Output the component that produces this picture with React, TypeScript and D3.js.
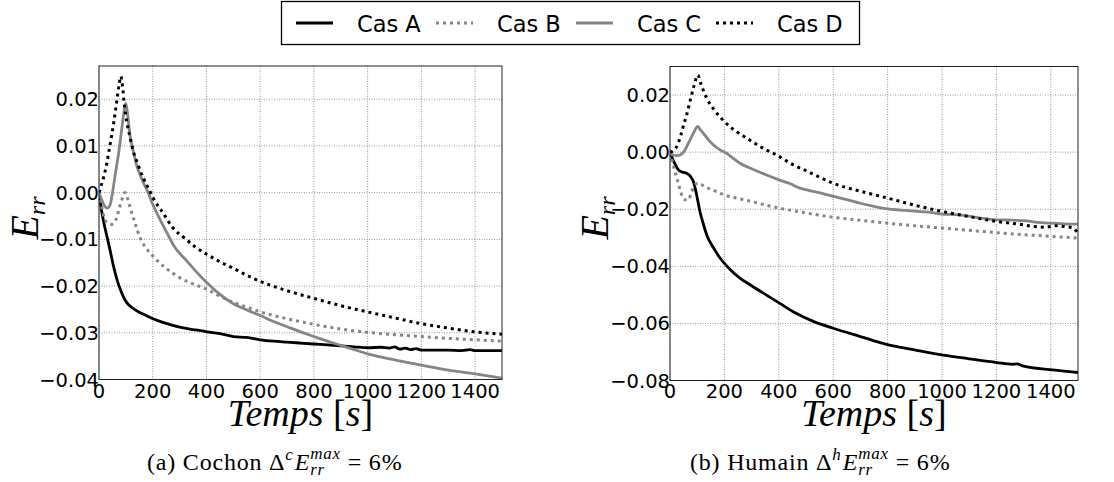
import React from 'react';
import * as d3 from 'd3';

type P = [number, number];

const timeTicks = [0, 200, 400, 600, 800, 1000, 1200, 1400];
const cochonYTicks = [-0.04, -0.03, -0.02, -0.01, 0, 0.01, 0.02];
const humainYTicks = [-0.08, -0.06, -0.04, -0.02, 0, 0.02];
const seriesNames = ['Cas A', 'Cas B', 'Cas C', 'Cas D'];

// (a) Cochon
const cochonA: P[] = [[0,0],[10,-0.004],[20,-0.007],[30,-0.0095],[40,-0.012],[55,-0.016],[70,-0.0192],[80,-0.0208],[90,-0.0222],[104,-0.0236],[125,-0.0247],[150,-0.0256],[175,-0.0263],[201,-0.027],[250,-0.028],[300,-0.0288],[350,-0.0293],[402,-0.0298],[450,-0.0302],[500,-0.0308],[550,-0.031],[600,-0.0315],[650,-0.0318],[700,-0.032],[750,-0.0322],[800,-0.0324],[850,-0.0326],[900,-0.0328],[950,-0.033],[1000,-0.0332],[1050,-0.0331],[1080,-0.0333],[1100,-0.033],[1120,-0.0335],[1140,-0.0333],[1160,-0.0336],[1180,-0.0334],[1200,-0.0337],[1250,-0.0337],[1300,-0.0337],[1350,-0.0338],[1380,-0.0336],[1400,-0.0338],[1450,-0.0338],[1500,-0.0338]];
const cochonB: P[] = [[0,0],[10,-0.003],[20,-0.0055],[30,-0.0064],[45,-0.0068],[55,-0.0066],[65,-0.0055],[75,-0.0035],[85,-0.0015],[97,0.0],[105,-0.001],[115,-0.003],[130,-0.0058],[154,-0.0098],[177,-0.012],[196,-0.0133],[225,-0.015],[250,-0.0162],[276,-0.0173],[300,-0.0182],[340,-0.0193],[376,-0.0201],[402,-0.0207],[450,-0.0222],[500,-0.0235],[550,-0.0245],[600,-0.0255],[700,-0.027],[800,-0.0282],[900,-0.0292],[1000,-0.0299],[1100,-0.0304],[1200,-0.0308],[1300,-0.0312],[1400,-0.0315],[1500,-0.0318]];
const cochonC: P[] = [[0,0],[10,-0.0015],[20,-0.0028],[32,-0.0033],[42,-0.0025],[53,0.001],[62,0.0045],[72,0.008],[80,0.0115],[88,0.0152],[95,0.018],[100,0.0191],[107,0.0165],[115,0.0124],[127,0.009],[140,0.0059],[160,0.0028],[183,0.0],[200,-0.0025],[225,-0.0055],[252,-0.0085],[281,-0.0116],[327,-0.0146],[360,-0.0168],[400,-0.0192],[450,-0.0218],[500,-0.0238],[550,-0.0251],[600,-0.0263],[650,-0.0276],[700,-0.0287],[750,-0.0298],[800,-0.0308],[850,-0.0318],[900,-0.0327],[950,-0.0336],[1000,-0.0345],[1100,-0.0358],[1200,-0.0369],[1300,-0.038],[1400,-0.0388],[1500,-0.0397]];
const cochonD: P[] = [[0,0],[8,0.0015],[16,0.003],[28,0.006],[41,0.0102],[55,0.015],[66,0.0195],[75,0.0232],[81,0.0249],[88,0.0225],[95,0.0185],[103,0.0152],[115,0.012],[128,0.0088],[145,0.006],[165,0.0031],[185,0.0008],[202,-0.0012],[240,-0.0045],[276,-0.0076],[320,-0.0098],[360,-0.0117],[401,-0.0132],[450,-0.0148],[500,-0.0162],[550,-0.0177],[600,-0.019],[700,-0.021],[798,-0.0226],[900,-0.0242],[997,-0.0255],[1100,-0.0268],[1195,-0.028],[1300,-0.029],[1400,-0.0298],[1500,-0.0303]];

// (b) Humain
const humainA: P[] = [[0,0],[15,-0.0035],[31,-0.0062],[45,-0.007],[61,-0.0074],[75,-0.0085],[86,-0.0103],[98,-0.015],[110,-0.0208],[122,-0.025],[135,-0.029],[160,-0.0335],[184,-0.0371],[220,-0.041],[257,-0.0441],[300,-0.0468],[343,-0.0494],[404,-0.053],[460,-0.0563],[527,-0.0593],[600,-0.0617],[700,-0.0646],[803,-0.0675],[895,-0.0692],[1005,-0.0711],[1100,-0.0724],[1201,-0.0737],[1260,-0.0743],[1275,-0.0742],[1300,-0.075],[1397,-0.0762],[1500,-0.0772]];
const humainB: P[] = [[0,0],[12,-0.0045],[25,-0.0091],[35,-0.0125],[43,-0.015],[55,-0.0167],[67,-0.0167],[80,-0.0138],[92,-0.0114],[104,-0.0109],[130,-0.0122],[160,-0.0134],[200,-0.015],[250,-0.0162],[300,-0.0173],[350,-0.0185],[401,-0.0196],[500,-0.0213],[600,-0.0228],[700,-0.0239],[800,-0.0249],[900,-0.0258],[1001,-0.0266],[1100,-0.0274],[1201,-0.0282],[1300,-0.0289],[1400,-0.0295],[1500,-0.0301]];
const humainC: P[] = [[0,0],[10,-0.001],[25,-0.0012],[40,-0.0008],[50,0.0],[62,0.002],[74,0.0043],[88,0.007],[102,0.009],[112,0.0078],[123,0.0066],[140,0.0045],[159,0.0026],[184,0.0008],[208,-0.0004],[230,-0.002],[257,-0.0039],[300,-0.0058],[355,-0.008],[401,-0.0097],[440,-0.011],[478,-0.0126],[540,-0.014],[600,-0.0155],[650,-0.0166],[699,-0.0179],[750,-0.019],[800,-0.0199],[850,-0.0203],[900,-0.0207],[950,-0.021],[1001,-0.0217],[1050,-0.0219],[1103,-0.0225],[1150,-0.0232],[1201,-0.0237],[1250,-0.0238],[1311,-0.0241],[1350,-0.0246],[1401,-0.0249],[1450,-0.0251],[1500,-0.0252]];
const humainD: P[] = [[0,0],[12,0.0005],[25,0.002],[40,0.006],[50,0.0095],[61,0.013],[74,0.018],[86,0.0224],[95,0.0255],[102,0.027],[115,0.0235],[135,0.0189],[165,0.0145],[200,0.0107],[240,0.0075],[282,0.0049],[340,0.0015],[401,-0.0015],[450,-0.0043],[500,-0.0065],[550,-0.0088],[600,-0.0109],[700,-0.0137],[800,-0.0161],[900,-0.0186],[1001,-0.0208],[1100,-0.0226],[1201,-0.0243],[1280,-0.0252],[1336,-0.026],[1380,-0.0263],[1420,-0.0258],[1460,-0.0262],[1480,-0.0265],[1500,-0.0284]];

const GRAY = '#858585';
const lineStyles = [
  { stroke: '#000', dash: undefined as string | undefined, w: 2.8 },
  { stroke: GRAY, dash: '3 4', w: 3 },
  { stroke: GRAY, dash: undefined as string | undefined, w: 2.8 },
  { stroke: '#000', dash: '3 4', w: 3 },
];

const tickFont = 'DejaVu Sans';
const fmt = d3.format('.2f');

function Panel(props: {
  id: string; x0: number; x1: number; y0: number; y1: number;
  yDomain: [number, number]; yTicks: number[]; series: P[][];
  labelX: number; labelY: number;
}) {
  const { id, x0, x1, y0, y1, yDomain, yTicks, series, labelX, labelY } = props;
  const x = d3.scaleLinear().domain([0, 1500]).range([x0, x1]);
  const y = d3.scaleLinear().domain(yDomain).range([y1, y0]);
  const line = d3.line<P>().x(d => x(d[0])).y(d => y(d[1])).curve(d3.curveMonotoneX);
  return (
    <g>
      <defs>
        <clipPath id={id}>
          <rect x={x0} y={y0} width={x1 - x0} height={y1 - y0} />
        </clipPath>
      </defs>
      {timeTicks.map(t => (
        <line key={'gx' + t} x1={x(t)} x2={x(t)} y1={y0} y2={y1} stroke="#8a8a8a" strokeWidth={0.9} strokeDasharray="1 1.5" />
      ))}
      {yTicks.map(v => (
        <line key={'gy' + v} x1={x0} x2={x1} y1={y(v)} y2={y(v)} stroke="#8a8a8a" strokeWidth={0.9} strokeDasharray="1 1.5" />
      ))}
      <g clipPath={`url(#${id})`}>
        {series.map((s, i) => (
          <path key={i} d={line(s) || ''} fill="none" stroke={lineStyles[i].stroke}
            strokeWidth={lineStyles[i].w} strokeDasharray={lineStyles[i].dash} strokeLinejoin="round" />
        ))}
      </g>
      <rect x={x0} y={y0} width={x1 - x0} height={y1 - y0} fill="none" stroke="#222" strokeWidth={1} />
      {timeTicks.map(t => (
        <text key={'tx' + t} x={x(t)} y={397.5} textAnchor="middle" fontFamily={tickFont} fontSize={19.5} fill="#000">{t}</text>
      ))}
      {yTicks.map(v => (
        <text key={'ty' + v} x={x0} y={y(v)} dy="0.36em" textAnchor="end" fontFamily={tickFont} fontSize={19.5} fill="#000">{fmt(v)}</text>
      ))}
      <text x={(x0 + x1) / 2} y={426} textAnchor="middle" fontFamily="Liberation Serif" fontSize={38} fill="#000">
        <tspan fontStyle="italic">Temps</tspan><tspan> [</tspan><tspan fontStyle="italic">s</tspan><tspan>]</tspan>
      </text>
      <text transform={`translate(${labelX},${labelY}) rotate(-90)`} textAnchor="middle" fontFamily="Liberation Serif" fontStyle="italic" fontSize={40} fill="#000">
        <tspan>E</tspan><tspan fontSize={24} dy={7}>rr</tspan>
      </text>
    </g>
  );
}

function Caption(props: { x: number; y: number; tag: string; name: string; sup: string }) {
  const { x, y, tag, name, sup } = props;
  return (
    <text x={x} y={y} fontFamily="Liberation Serif" fontSize={24} fill="#000" letterSpacing={0.8}>
      <tspan>{`(${tag}) ${name} `}</tspan>
      <tspan>Δ</tspan>
      <tspan fontStyle="italic" fontSize={17} dy={-10}>{sup}</tspan>
      <tspan fontStyle="italic" dy={10} dx={1}>E</tspan>
      <tspan fontStyle="italic" fontSize={17} dy={5}>rr</tspan>
      <tspan fontStyle="italic" fontSize={17} dx={-14.8} dy={-16}>max</tspan>
      <tspan dy={11}>{' = 6%'}</tspan>
    </text>
  );
}

export default function App() {
  const legendLineX = [296, 436, 576, 716];
  const legendTextX = [357, 497, 637, 777];
  return (
    <svg width={1114} height={482} style={{ position: 'absolute', left: 0, top: 0, background: '#fff' }}>
      <rect x={0} y={0} width={1114} height={482} fill="#fff" />
      <Panel id="clipA" x0={99} x1={502} y0={66} y1={379.5} yDomain={[-0.04, 0.0271]} yTicks={cochonYTicks}
        series={[cochonA, cochonB, cochonC, cochonD]} labelX={38} labelY={218} />
      <Panel id="clipB" x0={670} x1={1078} y0={66.5} y1={380.5} yDomain={[-0.08, 0.03]} yTicks={humainYTicks}
        series={[humainA, humainB, humainC, humainD]} labelX={608} labelY={218} />
      <g>
        <rect x={281.5} y={1.5} width={578} height={43} fill="#fff" stroke="#000" strokeWidth={1.3} />
        {seriesNames.map((n, i) => (
          <g key={n}>
            <line x1={legendLineX[i]} x2={legendLineX[i] + 37} y1={23} y2={23} stroke={lineStyles[i].stroke}
              strokeWidth={lineStyles[i].w} strokeDasharray={lineStyles[i].dash} />
            <text x={legendTextX[i]} y={32} fontFamily={tickFont} fontSize={22.5} fill="#000">{n}</text>
          </g>
        ))}
      </g>
      <Caption x={147} y={470} tag="a" name="Cochon" sup="c" />
      <Caption x={690} y={470} tag="b" name="Humain" sup="h" />
    </svg>
  );
}
